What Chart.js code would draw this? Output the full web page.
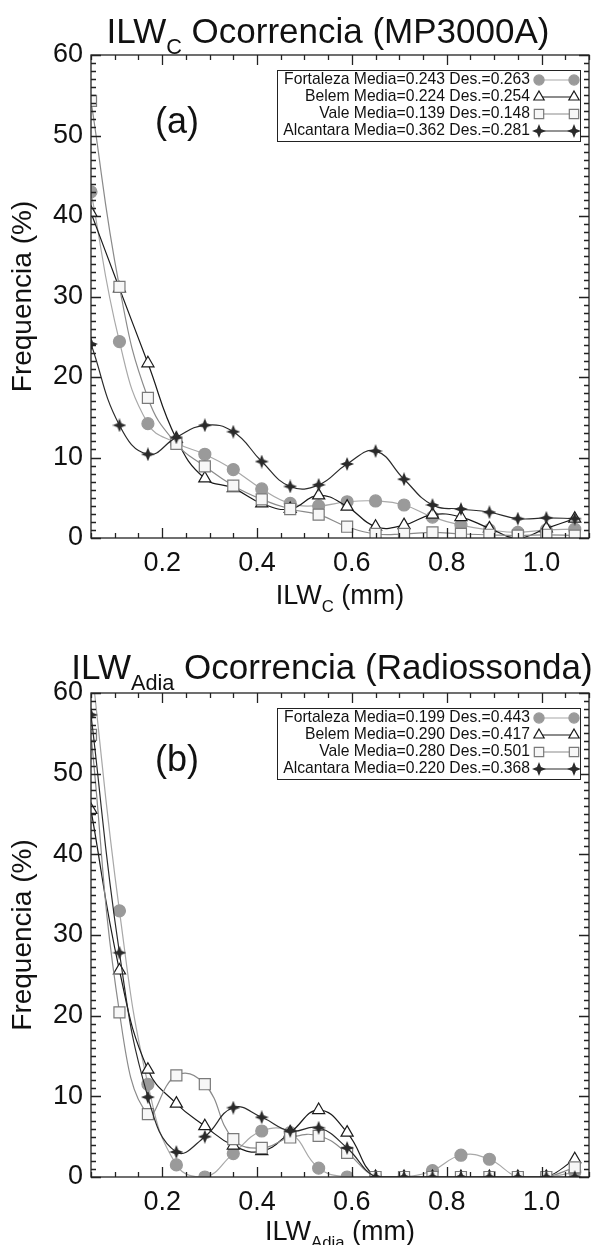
<!DOCTYPE html>
<html lang="pt">
<head>
<meta charset="UTF-8">
<title>ILW Ocorrencia</title>
<script src="https://cdn.jsdelivr.net/npm/chart.js"></script>
<style>
  body { margin: 0; background: #fff; }
  .panel { position: absolute; left: 0; width: 599px; }
  #panelA { top: 0; height: 622px; }
  #panelB { top: 622px; height: 623px; }
</style>
</head>
<body>
<div class="panel" id="panelA"><canvas id="chartA" width="599" height="622"></canvas></div>
<div class="panel" id="panelB"><canvas id="chartB" width="599" height="623"></canvas></div>
<script>
// bin centres (mm) and axis ticks
const ilwBins = [0.05, 0.11, 0.17, 0.23, 0.29, 0.35, 0.41, 0.47, 0.53, 0.59, 0.65, 0.71, 0.77, 0.83, 0.89, 0.95, 1.01, 1.07];
const xTicks = [0.2, 0.4, 0.6, 0.8, 1.0];
const yTicks = [0, 10, 20, 30, 40, 50, 60];
const stations = ['Fortaleza', 'Belem', 'Vale', 'Alcantara'];

// (a) MP3000A
const fortalezaA = [43.0, 24.4, 14.2, 11.8, 10.4, 8.5, 6.1, 4.3, 4.0, 4.5, 4.6, 4.1, 2.6, 1.6, 1.0, 0.7, 1.0, 1.1];
const belemA     = [40.4, 31.0, 21.7, 12.3, 7.4, 6.2, 4.3, 3.6, 5.3, 3.9, 1.4, 1.6, 2.9, 2.6, 1.2, 0.0, 1.2, 2.4];
const valeA      = [54.3, 31.2, 17.4, 11.7, 8.9, 6.5, 4.8, 3.6, 2.9, 1.4, 0.5, 0.5, 0.7, 0.5, 0.4, 0.3, 0.4, 0.3];
const alcantaraA = [24.1, 14.0, 10.4, 12.5, 14.0, 13.2, 9.5, 6.4, 6.6, 9.2, 10.8, 7.3, 4.1, 3.6, 3.2, 2.4, 2.5, 2.4];
const statsA = ['Media=0.243 Des.=0.263', 'Media=0.224 Des.=0.254', 'Media=0.139 Des.=0.148', 'Media=0.362 Des.=0.281'];

// (b) Radiossonda
const fortalezaB = [64.0, 33.0, 11.5, 1.5, 0.0, 2.9, 5.7, 5.5, 1.1, 0.0, 0.0, 0.0, 0.8, 2.7, 2.2, 0.0, 0.0, 0.6];
const belemB     = [45.5, 25.6, 13.3, 9.1, 6.3, 3.9, 3.2, 5.5, 8.3, 5.5, 0.0, 0.0, 0.0, 0.0, 0.0, 0.0, 0.0, 2.2];
const valeB      = [54.8, 20.4, 7.8, 12.6, 11.5, 4.7, 3.6, 4.9, 5.1, 3.0, 0.0, 0.0, 0.0, 0.0, 0.0, 0.0, 0.0, 1.2];
const alcantaraB = [57.3, 27.8, 9.9, 3.1, 5.0, 8.6, 7.4, 5.7, 6.1, 3.6, 0.0, 0.0, 0.0, 0.0, 0.0, 0.0, 0.0, 0.0];
const statsB = ['Media=0.199 Des.=0.443', 'Media=0.290 Des.=0.417', 'Media=0.280 Des.=0.501', 'Media=0.220 Des.=0.368'];

const FONT = "'Liberation Sans', Arial, Helvetica, sans-serif";

function makeStar(size, color) {
  const c = document.createElement('canvas');
  c.width = c.height = size;
  const g = c.getContext('2d');
  const r = size / 2, ri = size * 0.2;
  g.beginPath();
  for (let i = 0; i < 8; i++) {
    const ang = i * Math.PI / 4 - Math.PI / 2;
    const rr = i % 2 ? ri : r;
    g.lineTo(r + rr * Math.cos(ang), r + rr * Math.sin(ang));
  }
  g.closePath();
  g.fillStyle = color;
  g.fill();
  return c;
}

const styles = [
  { line: '#a8a8a8', point: 'circle', r: 6, fill: '#9a9a9a', edge: '#9a9a9a', order: 4 },
  { line: '#1a1a1a', point: 'triangle', r: 7, fill: '#ffffff', edge: '#1a1a1a', order: 3 },
  { line: '#8a8a8a', point: 'rect', r: 7.8, fill: '#f7f7f7', edge: '#7a7a7a', order: 2 },
  { line: '#2a2a2a', point: makeStar(14, '#2a2a2a'), r: 7, fill: '#2a2a2a', edge: '#2a2a2a', order: 1 }
];

function series(i, values) {
  const st = styles[i];
  return {
    label: stations[i],
    data: ilwBins.map((x, k) => ({ x, y: values[k] })),
    borderColor: st.line,
    borderWidth: 1.2,
    tension: 0.45,
    fill: false,
    pointStyle: st.point,
    pointRadius: st.r,
    pointBackgroundColor: st.fill,
    pointBorderColor: st.edge,
    pointBorderWidth: 1.2,
    order: st.order,
    clip: 0
  };
}

function drawRich(ctx, segs, cx, baseY, size) {
  const widths = segs.map(([t, sub]) => {
    ctx.font = (sub ? size * 0.62 : size) + 'px ' + FONT;
    return ctx.measureText(t).width;
  });
  let x = cx - widths.reduce((a, b) => a + b, 0) / 2;
  ctx.textAlign = 'left';
  ctx.textBaseline = 'alphabetic';
  segs.forEach(([t, sub], i) => {
    ctx.font = (sub ? size * 0.62 : size) + 'px ' + FONT;
    ctx.fillText(t, x, baseY + (sub ? size * 0.3 : 0));
    x += widths[i];
  });
}

const deco = {
  chartA: { title: [['ILW'], ['C', true], [' Ocorrencia (MP3000A)']], titleX: 328, titleY: 43,
            xTitle: [['ILW'], ['C', true], [' (mm)']], xTitleY: 604, tag: '(a)', stats: statsA },
  chartB: { title: [['ILW'], ['Adia', true], [' Ocorrencia (Radiossonda)']], titleX: 332, titleY: 57,
            xTitle: [['ILW'], ['Adia', true], [' (mm)']], xTitleY: 618, tag: '(b)', stats: statsB }
};

const panelDeco = {
  id: 'panelDeco',
  afterDatasetsDraw(chart) {
    const d = deco[chart.canvas.id];
    const { ctx, chartArea: a, scales: { x, y } } = chart;
    ctx.save();
    // frame with inward ticks on all sides
    ctx.strokeStyle = '#222';
    ctx.lineWidth = 1.3;
    ctx.strokeRect(a.left, a.top, a.right - a.left, a.bottom - a.top);
    ctx.beginPath();
    for (let k = 1; k <= 22; k++) {
      const px = Math.round(x.getPixelForValue(k * 0.05)) + 0.5;
      const len = k % 4 === 0 ? 10 : 5;
      ctx.moveTo(px, a.bottom); ctx.lineTo(px, a.bottom - len);
      ctx.moveTo(px, a.top); ctx.lineTo(px, a.top + len);
    }
    for (let k = 0; k <= 60; k++) {
      const py = Math.round(y.getPixelForValue(k)) + 0.5;
      const len = k % 10 === 0 ? 10 : 5;
      ctx.moveTo(a.left, py); ctx.lineTo(a.left + len, py);
      ctx.moveTo(a.right, py); ctx.lineTo(a.right - len, py);
    }
    ctx.stroke();

    // titles
    ctx.fillStyle = '#111';
    drawRich(ctx, d.title, d.titleX, d.titleY, 35);
    drawRich(ctx, d.xTitle, 340, d.xTitleY, 27);
    ctx.save();
    ctx.translate(23, (a.top + a.bottom) / 2);
    ctx.rotate(-Math.PI / 2);
    ctx.font = '28px ' + FONT;
    ctx.textAlign = 'center';
    ctx.textBaseline = 'middle';
    ctx.fillText('Frequencia (%)', 0, 0);
    ctx.restore();

    // panel tag
    ctx.font = '36px ' + FONT;
    ctx.textAlign = 'center';
    ctx.textBaseline = 'middle';
    ctx.fillText(d.tag, 177, a.top + 68);

    // legend box
    const bx = 277, bw = 303, by = a.top + 15, rowH = 17;
    ctx.fillStyle = '#fff';
    ctx.fillRect(bx, by, bw, rowH * 4 + 3);
    ctx.strokeStyle = '#222';
    ctx.lineWidth = 1;
    ctx.strokeRect(bx + 0.5, by + 0.5, bw, rowH * 4 + 3);
    ctx.font = '15.7px ' + FONT;
    ctx.textAlign = 'right';
    ctx.textBaseline = 'middle';
    chart.data.datasets.forEach((ds, i) => {
      const ry = by + 10 + i * rowH;
      ctx.fillStyle = '#111';
      ctx.fillText(ds.label + ' ' + d.stats[i], 530, ry);
      ctx.strokeStyle = ds.borderColor;
      ctx.lineWidth = 1.2;
      ctx.beginPath(); ctx.moveTo(539, ry); ctx.lineTo(574, ry); ctx.stroke();
      [539, 574].forEach(px => {
        ctx.fillStyle = ds.pointBackgroundColor;
        ctx.strokeStyle = ds.pointBorderColor;
        ctx.lineWidth = 1.2;
        Chart.helpers.drawPoint(ctx, { pointStyle: ds.pointStyle, radius: ds.pointRadius * 0.85, rotation: 0, borderWidth: 1.2 }, px, ry);
      });
    });
    ctx.restore();
  }
};

function makeChart(id, sets, topPad, xAxisH) {
  return new Chart(document.getElementById(id), {
    type: 'line',
    data: { datasets: sets.map((v, i) => series(i, v)) },
    options: {
      responsive: false,
      animation: false,
      devicePixelRatio: 1,
      events: [],
      layout: { padding: { top: topPad, right: 10, left: 0, bottom: 0 } },
      plugins: { legend: { display: false }, tooltip: { enabled: false }, title: { display: false } },
      scales: {
        x: {
          type: 'linear', min: 0.05, max: 1.1,
          afterFit: s => { s.height = xAxisH; },
          afterBuildTicks: s => { s.ticks = xTicks.map(v => ({ value: v })); },
          grid: { display: false, drawTicks: false },
          border: { display: false },
          ticks: { padding: 9, color: '#111', font: { size: 27, family: FONT }, maxRotation: 0, autoSkip: false,
                   callback: v => Number(v).toFixed(1) }
        },
        y: {
          min: 0, max: 60,
          afterFit: s => { s.width = 91; },
          afterBuildTicks: s => { s.ticks = yTicks.map(v => ({ value: v })); },
          grid: { display: false, drawTicks: false },
          border: { display: false },
          ticks: { padding: 8, color: '#111', font: { size: 27, family: FONT }, callback: v => String(v) }
        }
      }
    },
    plugins: [panelDeco]
  });
}

makeChart('chartA', [fortalezaA, belemA, valeA, alcantaraA], 55, 84);
makeChart('chartB', [fortalezaB, belemB, valeB, alcantaraB], 71, 68);
</script>
</body>
</html>
